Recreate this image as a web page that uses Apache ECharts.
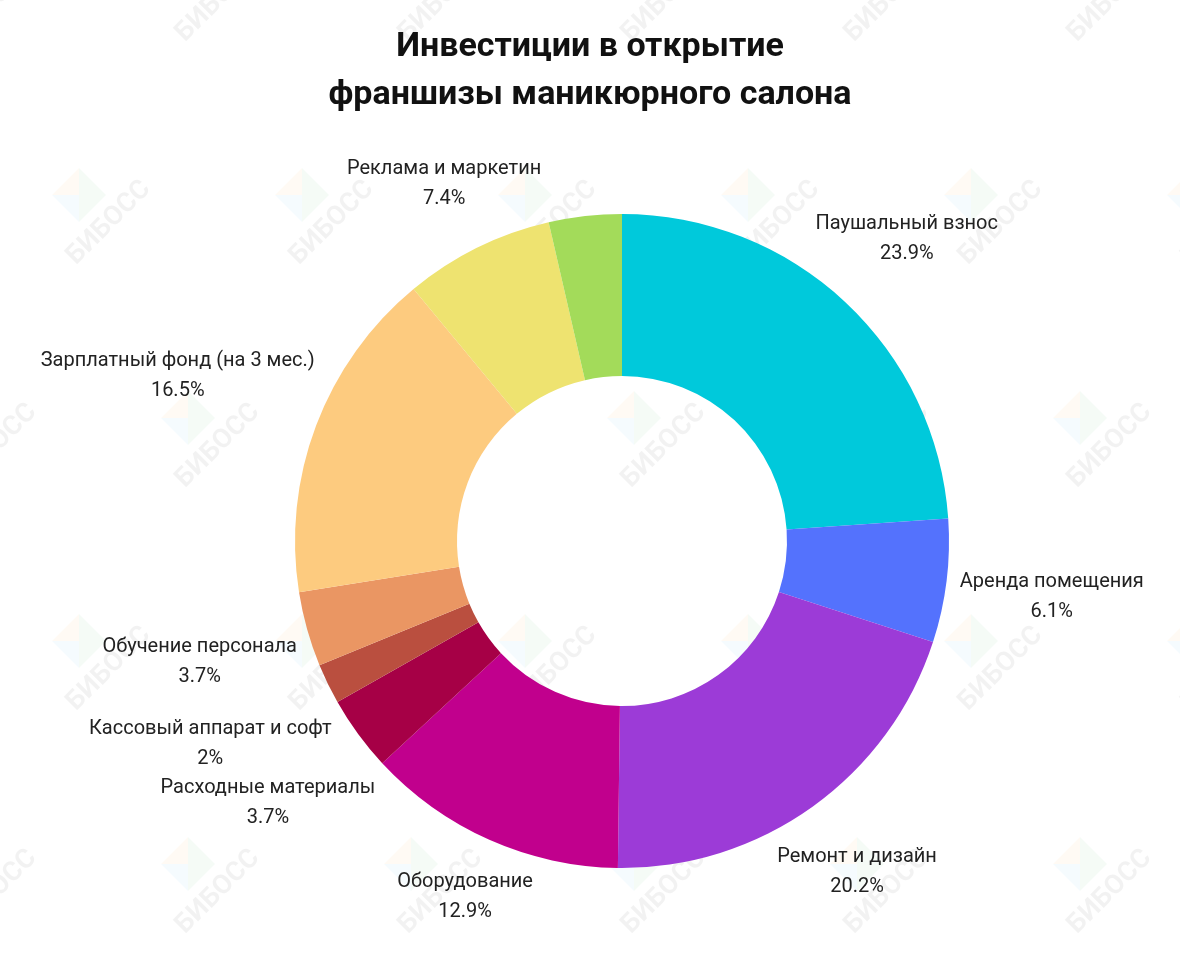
<!DOCTYPE html>
<html>
<head>
<meta charset="utf-8">
<script src="https://cdn.jsdelivr.net/npm/echarts@6/dist/echarts.min.js"></script>
<style>
html,body{margin:0;padding:0;background:#fff;}
#chart{width:1180px;height:953px;}
</style>
</head>
<body>
<div id="chart"></div>
<script>
// ---- data ----
const titleText = 'Инвестиции в открытие\nфраншизы маникюрного салона';
const categories = [
  'Паушальный взнос',
  'Аренда помещения',
  'Ремонт и дизайн',
  'Оборудование',
  'Расходные материалы',
  'Кассовый аппарат и софт',
  'Обучение персонала',
  'Зарплатный фонд (на 3 мес.)',
  'Реклама и маркетин',
  'Прочее'
];
const values = [23.9, 6.1, 20.2, 12.9, 3.7, 2, 3.7, 16.5, 7.4, 3.6];
const showLabel = [true, true, true, true, true, true, true, true, true, false];
const colors = ['#00c9db', '#5472fd', '#9c3bd7', '#c1008d', '#a60046', '#ba4f3f', '#ea9663', '#fdcb7f', '#eee370', '#a3db5a'];

// ---- layout ----
const CX = 622, CY = 541, R0 = 165, R1 = 327;
const total = values.reduce((a, b) => a + b, 0);
const cum = [];
values.reduce((acc, v, i) => { cum[i] = acc; return acc + v; }, 0);

// watermark
const wm = [];
const rowsY = [-28, 195, 418, 641, 864];
rowsY.forEach((y, r) => {
  const x0 = (r % 2 === 0) ? -35 : 79;
  for (let x = x0; x < 1250; x += 223) {
    wm.push({
      type: 'group', x: x, y: y, silent: true, z: 100,
      children: [
        {type: 'polygon', shape: {points: [[-27, 0], [0, -27], [0, 0]]}, style: {fill: 'rgba(255,165,60,0.06)'}},
        {type: 'polygon', shape: {points: [[0, -27], [27, 0], [0, 27], [0, 0]]}, style: {fill: 'rgba(90,190,100,0.06)'}},
        {type: 'polygon', shape: {points: [[-27, 0], [0, 0], [0, 27]]}, style: {fill: 'rgba(80,185,235,0.06)'}},
        {type: 'text', x: 30, y: 28, rotation: Math.PI / 4,
         style: {text: 'БИБОСС', fill: 'rgba(0,0,0,0.05)', font: 'bold 27px Roboto', align: 'center', verticalAlign: 'middle'}}
      ]
    });
  }
});

const chart = echarts.init(document.getElementById('chart'));
chart.setOption({
  backgroundColor: '#fff',
  animation: false,
  title: {
    text: titleText,
    left: 'center',
    top: 18,
    textStyle: {fontFamily: 'Roboto', fontSize: 34, fontWeight: 'bold', color: '#111', lineHeight: 48}
  },
  graphic: wm,
  series: [{
    type: 'pie',
    center: [CX, CY],
    radius: [R0, R1],
    startAngle: 90,
    clockwise: true,
    color: colors,
    itemStyle: {borderWidth: 0},
    label: {
      show: true,
      position: 'inside',
      overflow: 'none',
      formatter: p => p.name + '\n' + p.value + '%',
      fontFamily: 'Roboto',
      fontSize: 20,
      color: '#222',
      lineHeight: 30
    },
    labelLine: {show: false},
    labelLayout: function (p) {
      const i = p.dataIndex;
      const a = (cum[i] + values[i] / 2) / total * Math.PI * 2;
      const s = Math.sin(a), c = Math.cos(a);
      const w = p.labelRect.width;
      const d = R1 + 12 + Math.abs(s) * w / 2 + Math.abs(c) * 22;
      return {x: CX + d * s, y: CY - d * c + 3, align: 'center', verticalAlign: 'middle', hideOverlap: false};
    },
    data: categories.map((n, i) => ({name: n, value: values[i], label: {show: showLabel[i]}}))
  }]
});
</script>
</body>
</html>
